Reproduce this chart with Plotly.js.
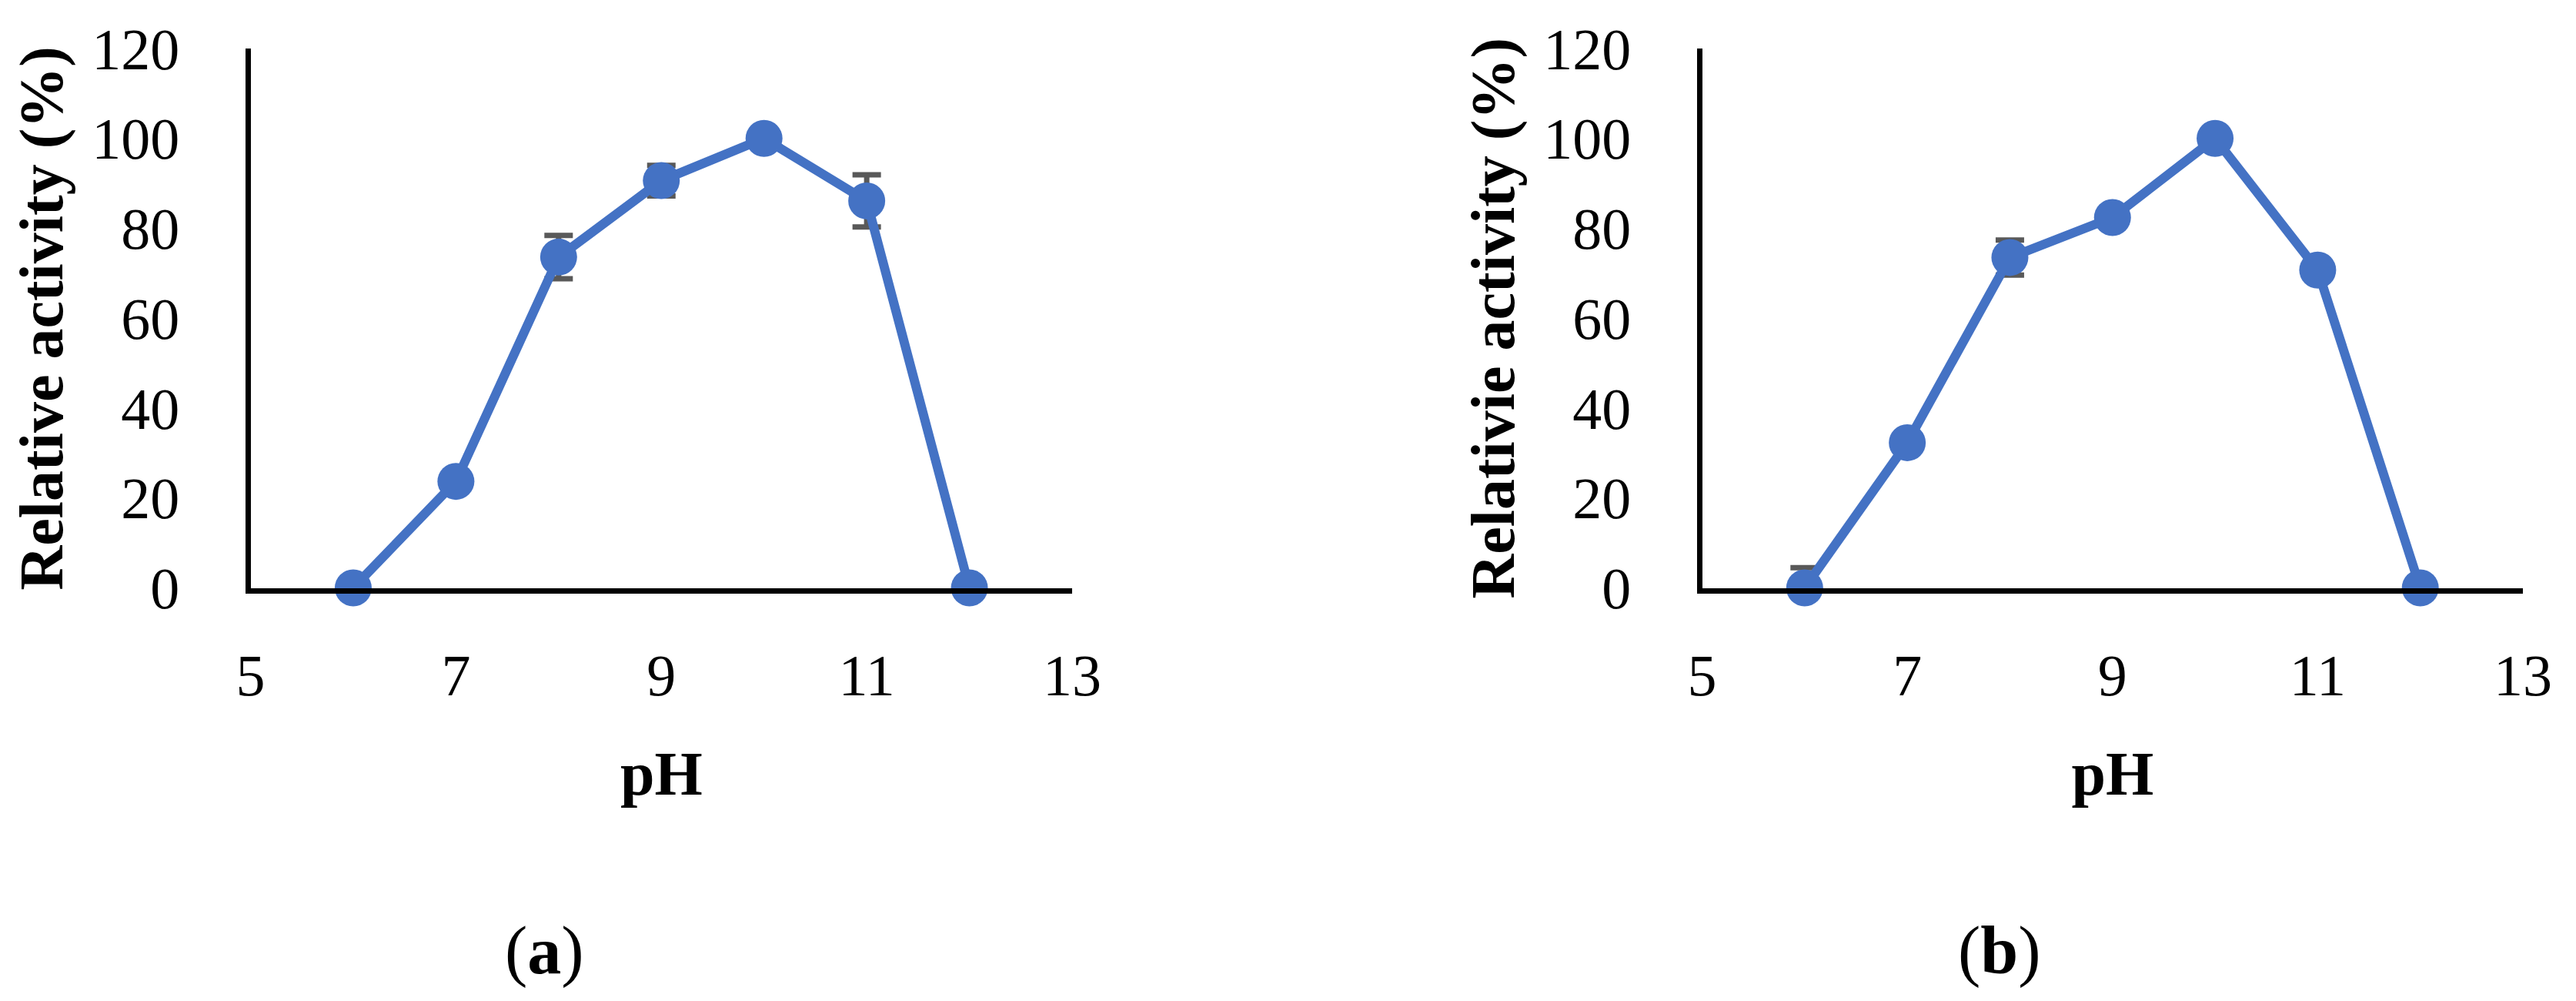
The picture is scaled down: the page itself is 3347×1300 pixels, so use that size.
<!DOCTYPE html>
<html>
<head>
<meta charset="utf-8">
<script src="https://cdn.plot.ly/plotly-3.0.1.min.js"></script>
<style>html,body{margin:0;padding:0;background:#fff;}#chart{width:3347px;height:1300px;}</style>
</head>
<body>
<div id="chart"></div>
<script>
// ---- data ----
const pH = [6, 7, 8, 9, 10, 11, 12];
const activityA = [0, 23.7, 73.6, 90.6, 100, 86.1, 0];
const errorA = [0, 0, 4.8, 3.4, 0, 5.8, 0];
const errorAMinus = [0, 0, 4.8, 3.4, 0, 5.8, 0];
const activityB = [0, 32.3, 73.5, 82.4, 100, 70.7, 0];
const errorB = [4.5, 0, 3.9, 0, 0, 0, 0];
const errorBMinus = [0, 0, 3.9, 0, 0, 0, 0];
const xTicks = [5, 7, 9, 11, 13];
const yTicks = [0, 20, 40, 60, 80, 100, 120];
const yTitleA = 'Relative activity (%)';
const yTitleB = 'Relativie activity (%)';
const xTitle = 'pH';
const panelLabels = ['(<b>a</b>)', '(<b>b</b>)'];

const W = 3347, H = 1300;
const blue = '#4472C4';
const errGrey = '#595959';
const serif = 'Liberation Serif, Times New Roman, serif';

function trace(y, err, errMinus, xa, ya) {
  return {
    type: 'scatter', mode: 'lines+markers',
    x: pH, y: y, xaxis: xa, yaxis: ya,
    line: {color: blue, width: 12},
    marker: {color: blue, size: 48},
    cliponaxis: false,
    error_y: {type: 'data', symmetric: false, array: err, arrayminus: errMinus,
              color: errGrey, thickness: 7, width: 18.5},
    showlegend: false, hoverinfo: 'skip'
  };
}

function xAxis(domain, anchor) {
  return {
    domain: domain, anchor: anchor, range: [5, 13],
    tickmode: 'array', tickvals: xTicks, ticktext: xTicks.map(String),
    showgrid: false, zeroline: false, showline: true, linecolor: '#000', linewidth: 7,
    ticks: '', ticklabelstandoff: 41,
    tickfont: {family: serif, size: 76, color: '#000'},
    title: {text: xTitle, font: {family: serif, size: 80, color: '#000', weight: 'bold'}, standoff: 61}
  };
}
function yAxis(domain, anchor, title) {
  return {
    domain: domain, anchor: anchor, range: [0, 120],
    tickmode: 'array', tickvals: yTicks, ticktext: yTicks.map(String),
    showgrid: false, zeroline: false, showline: true, linecolor: '#000', linewidth: 7,
    ticks: '', ticklabelstandoff: 70,
    tickfont: {family: serif, size: 76, color: '#000'},
    title: {text: title, font: {family: serif, size: 80, color: '#000', weight: 'bold'}, standoff: 14}
  };
}

const yDom = [(H - 763.5) / H, (H - 63) / H];
const layout = {
  width: W, height: H,
  margin: {l: 0, r: 0, t: 0, b: 0},
  paper_bgcolor: '#fff', plot_bgcolor: '#fff',
  xaxis: xAxis([325.5 / W, 1393 / W], 'y'),
  yaxis: yAxis(yDom, 'x', yTitleA),
  xaxis2: xAxis([2211.5 / W, 3278 / W], 'y2'),
  yaxis2: yAxis(yDom, 'x2', yTitleB),
  annotations: [
    {text: panelLabels[0], xref: 'paper', yref: 'paper', x: 707 / W, y: (H - 1234) / H,
     xanchor: 'center', yanchor: 'middle', showarrow: false,
     font: {family: serif, size: 88, color: '#000'}},
    {text: panelLabels[1], xref: 'paper', yref: 'paper', x: 2598 / W, y: (H - 1234) / H,
     xanchor: 'center', yanchor: 'middle', showarrow: false,
     font: {family: serif, size: 88, color: '#000'}}
  ]
};

Plotly.newPlot('chart', [
  trace(activityA, errorA, errorAMinus, 'x', 'y'),
  trace(activityB, errorB, errorBMinus, 'x2', 'y2')
], layout, {staticPlot: true, displayModeBar: false});
</script>
</body>
</html>
